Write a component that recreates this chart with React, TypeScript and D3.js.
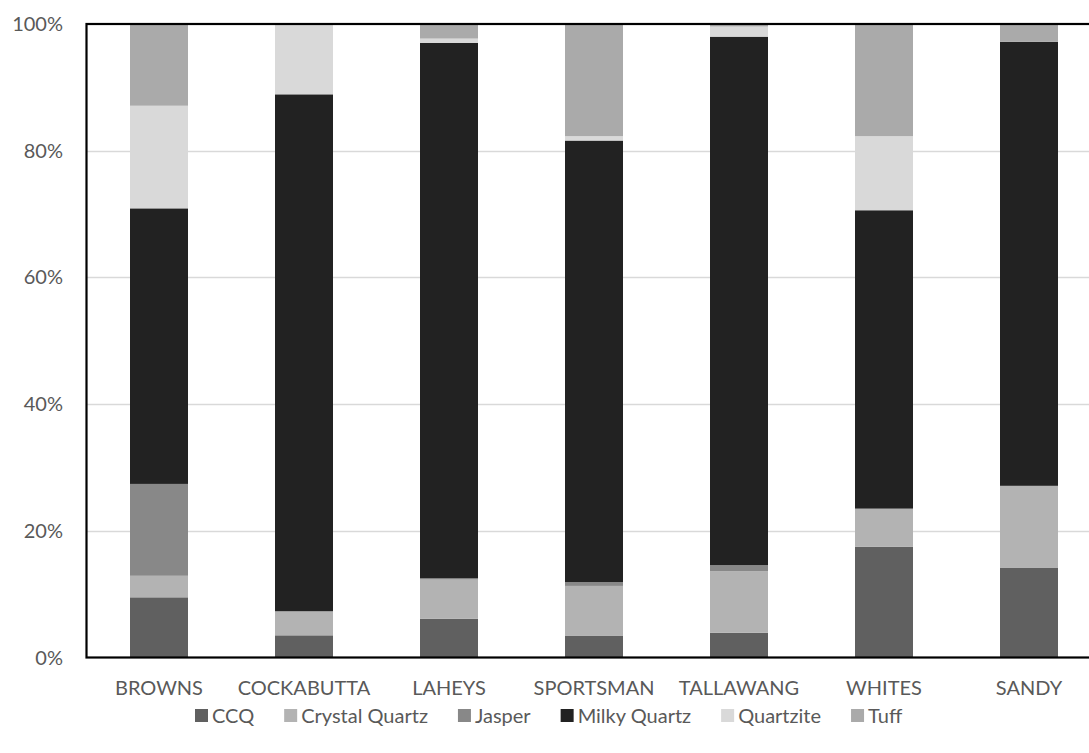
import React, { useEffect, useRef } from 'react';
import * as d3 from 'd3';

const categories = ['BROWNS', 'COCKABUTTA', 'LAHEYS', 'SPORTSMAN', 'TALLAWANG', 'WHITES', 'SANDY'];
const seriesNames = ['CCQ', 'Crystal Quartz', 'Jasper', 'Milky Quartz', 'Quartzite', 'Tuff'];
const ccq = [9.5, 3.5, 6.1, 3.4, 3.9, 17.5, 14.2];
const crystalQuartz = [3.4, 3.8, 6.2, 7.9, 9.7, 6.0, 12.9];
const jasper = [14.5, 0, 0.2, 0.6, 1.0, 0, 0];
const milkyQuartz = [43.5, 81.6, 84.5, 69.7, 83.4, 47.1, 70.1];
const quartzite = [16.2, 11.1, 0.7, 0.7, 1.6, 11.7, 0];
const tuff = [12.9, 0, 2.3, 17.7, 0.4, 17.7, 2.8];
const yTicks = [0, 0.2, 0.4, 0.6, 0.8, 1];
const colors = ['#606060', '#b3b3b3', '#888888', '#222222', '#d9d9d9', '#aaaaaa'];

const W = 1089;
const H = 753;
const FONT = "Lato, 'Open Sans', sans-serif";
const FS = 20;

export default function App() {
  const ref = useRef<SVGSVGElement>(null);

  useEffect(() => {
    const svg = d3.select(ref.current);
    svg.selectAll('*').remove();

    const seriesValues = [ccq, crystalQuartz, jasper, milkyQuartz, quartzite, tuff];
    const rows = categories.map((c, i) => {
      const r: any = { cat: c };
      seriesNames.forEach((s, j) => (r[s] = seriesValues[j][i]));
      return r;
    });
    const stacked = d3.stack().keys(seriesNames).offset(d3.stackOffsetExpand)(rows);

    const left = 86.5, right = 1101.5, top = 24, bottom = 657.5;
    const x = d3.scaleBand().domain(categories).range([left, right]).paddingInner(0.6).paddingOuter(0.3);
    const y = d3.scaleLinear().domain([0, 1]).range([bottom, top]);

    // gridlines
    svg.append('g').selectAll('line').data(yTicks.filter(t => t > 0 && t < 1)).join('line')
      .attr('x1', left).attr('x2', right)
      .attr('y1', d => Math.round(y(d)) + 0.5).attr('y2', d => Math.round(y(d)) + 0.5)
      .attr('stroke', '#d9d9d9').attr('stroke-width', 1.3);

    // bars
    const g = svg.append('g');
    stacked.forEach((s, j) => {
      g.append('g').attr('fill', colors[j]).selectAll('rect').data(s).join('rect')
        .attr('x', (d: any) => x(d.data.cat)!)
        .attr('width', x.bandwidth())
        .attr('y', (d: any) => y(d[1]))
        .attr('height', (d: any) => Math.max(0, y(d[0]) - y(d[1])));
    });

    // frame
    svg.append('rect').attr('x', left).attr('y', top).attr('width', right - left).attr('height', bottom - top)
      .attr('fill', 'none').attr('stroke', '#000').attr('stroke-width', 2.2);

    // y labels
    svg.append('g').selectAll('text').data(yTicks).join('text')
      .attr('x', 63).attr('y', d => y(d) + 7)
      .attr('text-anchor', 'end')
      .attr('font-family', FONT).attr('font-size', 20).attr('fill', '#595959')
      .text(d => `${Math.round(d * 100)}%`);

    // x labels
    svg.append('g').selectAll('text').data(categories).join('text')
      .attr('x', d => x(d)! + x.bandwidth() / 2).attr('y', 695)
      .attr('text-anchor', 'middle')
      .attr('font-family', FONT).attr('font-size', FS).attr('fill', '#595959')
      .text(d => d);

    // legend
    const lg = svg.append('g');
    let cx = 195;
    seriesNames.forEach((s, j) => {
      lg.append('rect').attr('x', cx).attr('y', 709).attr('width', 13).attr('height', 13).attr('fill', colors[j]);
      const t = lg.append('text')
        .attr('x', cx + 17).attr('y', 723)
        .attr('font-family', FONT).attr('font-size', FS).attr('fill', '#595959')
        .text(s);
      const w = (t.node() as SVGTextElement).getComputedTextLength();
      cx += 17 + w + 30;
    });
  }, []);

  return (
    <svg ref={ref} width={W} height={H} style={{ position: 'absolute', left: 0, top: 0, background: '#fff' }} />
  );
}
